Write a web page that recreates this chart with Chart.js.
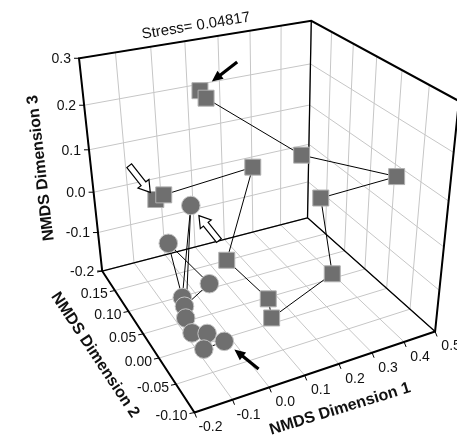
<!DOCTYPE html>
<html>
<head>
<meta charset="utf-8">
<script src="https://cdn.jsdelivr.net/npm/chart.js@4.4.0/dist/chart.umd.min.js"></script>
<style>
  body { margin: 0; background: #fff; }
  canvas { display: block; }
</style>
</head>
<body>
<canvas id="nmds" width="457" height="439"></canvas>
<script>
// axis ranges and ticks
const dim1Range = [-0.2, 0.5];
const dim2Range = [-0.10, 0.20];
const dim3Range = [-0.2, 0.3];
const dim1Ticks = [-0.2, -0.1, 0.0, 0.1, 0.2, 0.3, 0.4, 0.5];
const dim2Ticks = [-0.10, -0.05, 0.00, 0.05, 0.10, 0.15, 0.20];
const dim3Ticks = [-0.2, -0.1, 0.0, 0.1, 0.2, 0.3];
const dim1Labels = ['-0.2', '-0.1', '0.0', '0.1', '0.2', '0.3', '0.4', '0.5'];
const dim2Labels = ['-0.10', '-0.05', '0.00', '0.05', '0.10', '0.15', ''];
const dim3Labels = ['-0.2', '-0.1', '0.0', '0.1', '0.2', '0.3'];

// squares, in path order
const squareDim1 = [0.074, 0.080, 0.278, 0.409, 0.306, 0.277, 0.067, 0.079, 0.019, 0.133, -0.085, -0.098];
const squareDim2 = [0.133, 0.122, 0.050, -0.058, 0.025, -0.026, -0.050, -0.032, 0.019, 0.050, 0.087, 0.099];
const squareDim3 = [0.235, 0.225, 0.120, 0.134, 0.038, -0.086, -0.115, -0.093, -0.042, 0.118, 0.066, 0.048];

// circles, in path order
const circleDim1 = [-0.074, -0.130, -0.108, -0.135, -0.121, -0.052, -0.083, -0.115, -0.043, -0.130];
const circleDim2 = [-0.058, -0.059, -0.047, -0.033, 0.001, -0.001, 0.085, 0.013, 0.052, -0.011];
const circleDim3 = [-0.124, -0.126, -0.110, -0.118, -0.098, -0.060, -0.044, -0.092, 0.064, -0.110];

const stressText = 'Stress= 0.04817';

// box corners (unit cube) -> canvas, used to fit the perspective view
const view = [
  [0, 0, 0, 195.5, 413],
  [1, 0, 0, 435, 332],
  [0, 1, 0, 102, 270],
  [1, 1, 0, 307, 218],
  [0, 1, 1, 78.3, 59],
  [1, 1, 1, 312.7, 21],
  [1, 0, 1, 458, 100]
];

function solveLinear(M, b) {
  const n = b.length;
  const A = M.map((row, i) => row.concat([b[i]]));
  for (let c = 0; c < n; c++) {
    let p = c;
    for (let r = c + 1; r < n; r++) if (Math.abs(A[r][c]) > Math.abs(A[p][c])) p = r;
    [A[c], A[p]] = [A[p], A[c]];
    for (let r = 0; r < n; r++) {
      if (r === c) continue;
      const f = A[r][c] / A[c][c];
      for (let k = c; k <= n; k++) A[r][k] -= f * A[c][k];
    }
  }
  return A.map((row, i) => row[n] / row[i]);
}

function fitProjection() {
  const rows = [], rhs = [];
  for (const [u, v, w, x, y] of view) {
    rows.push([u, v, w, 1, 0, 0, 0, 0, -x * u, -x * v, -x * w]); rhs.push(x);
    rows.push([0, 0, 0, 0, u, v, w, 1, -y * u, -y * v, -y * w]); rhs.push(y);
  }
  const N = Array.from({length: 11}, () => new Array(11).fill(0));
  const r = new Array(11).fill(0);
  rows.forEach((row, k) => {
    for (let i = 0; i < 11; i++) {
      r[i] += row[i] * rhs[k];
      for (let j = 0; j < 11; j++) N[i][j] += row[i] * row[j];
    }
  });
  return solveLinear(N, r);
}
const P = fitProjection();

function project(d1, d2, d3) {
  const u = (d1 - dim1Range[0]) / (dim1Range[1] - dim1Range[0]);
  const v = (d2 - dim2Range[0]) / (dim2Range[1] - dim2Range[0]);
  const w = (d3 - dim3Range[0]) / (dim3Range[1] - dim3Range[0]);
  const h = P[8] * u + P[9] * v + P[10] * w + 1;
  return {
    x: (P[0] * u + P[1] * v + P[2] * w + P[3]) / h,
    y: (P[4] * u + P[5] * v + P[6] * w + P[7]) / h,
    depth: h
  };
}

const squarePts = squareDim1.map((d, i) => project(d, squareDim2[i], squareDim3[i]));
const circlePts = circleDim1.map((d, i) => project(d, circleDim2[i], circleDim3[i]));
const byDepth = pts => pts.slice().sort((a, b) => b.depth - a.depth);

// filled arrows point at the first square and first circle, open ones at the last square and ninth circle
const arrows = [
  {pts: squarePts, index: 0, angle: -37.6, gap: 15, length: 32, open: false},
  {pts: circlePts, index: 0, angle: 38.8, gap: 13, length: 31, open: false},
  {pts: squarePts, index: 11, angle: -128.2, gap: 9, length: 34, open: true},
  {pts: circlePts, index: 8, angle: 51.3, gap: 13, length: 32, open: true}
];

function canvasPoint(chart, p) {
  return {x: chart.scales.x.getPixelForValue(p.x), y: chart.scales.y.getPixelForValue(p.y)};
}
function at(chart, d1, d2, d3) {
  return canvasPoint(chart, project(d1, d2, d3));
}
function line(ctx, a, b) {
  ctx.moveTo(a.x, a.y);
  ctx.lineTo(b.x, b.y);
}

const boxPlugin = {
  id: 'box3d',
  beforeDatasetsDraw(chart) {
    const ctx = chart.ctx;
    const [x0, x1] = dim1Range, [y0, y1] = dim2Range, [z0, z1] = dim3Range;
    ctx.save();

    // grid on floor and two back walls
    ctx.strokeStyle = '#c6c6c6';
    ctx.lineWidth = 1;
    ctx.beginPath();
    dim1Ticks.forEach(t => {
      line(ctx, at(chart, t, y0, z0), at(chart, t, y1, z0));
      line(ctx, at(chart, t, y1, z0), at(chart, t, y1, z1));
    });
    dim2Ticks.forEach(t => {
      line(ctx, at(chart, x0, t, z0), at(chart, x1, t, z0));
      line(ctx, at(chart, x1, t, z0), at(chart, x1, t, z1));
    });
    dim3Ticks.forEach(t => {
      line(ctx, at(chart, x0, y1, t), at(chart, x1, y1, t));
      line(ctx, at(chart, x1, y0, t), at(chart, x1, y1, t));
    });
    ctx.stroke();

    // box edges
    ctx.strokeStyle = '#000';
    ctx.lineWidth = 1.3;
    ctx.beginPath();
    line(ctx, at(chart, x0, y1, z0), at(chart, x1, y1, z0));
    line(ctx, at(chart, x1, y1, z0), at(chart, x1, y0, z0));
    line(ctx, at(chart, x1, y1, z0), at(chart, x1, y1, z1));
    ctx.stroke();
    ctx.lineWidth = 2;
    ctx.beginPath();
    const c = [at(chart, x1, y0, z0), at(chart, x0, y0, z0), at(chart, x0, y1, z0),
      at(chart, x0, y1, z1), at(chart, x1, y1, z1), at(chart, x1, y0, z1)];
    ctx.moveTo(c[0].x, c[0].y);
    c.slice(1).forEach(p => ctx.lineTo(p.x, p.y));
    ctx.closePath();
    ctx.stroke();

    // ticks and tick labels
    ctx.lineWidth = 1;
    ctx.fillStyle = '#111';
    ctx.font = '14px "Liberation Sans", Arial, sans-serif';
    ctx.beginPath();
    dim3Ticks.forEach((t, i) => {
      const p = at(chart, x0, y1, t);
      ctx.moveTo(p.x, p.y); ctx.lineTo(p.x - 5, p.y);
      ctx.textAlign = 'right'; ctx.textBaseline = 'middle';
      ctx.fillText(dim3Labels[i], p.x - 8, p.y + 1);
    });
    dim2Ticks.forEach((t, i) => {
      const p = at(chart, x0, t, z0);
      ctx.moveTo(p.x, p.y); ctx.lineTo(p.x - 5, p.y + 1);
      ctx.textAlign = 'right'; ctx.textBaseline = 'middle';
      ctx.fillText(dim2Labels[i], p.x - 7, p.y + 4);
    });
    dim1Ticks.forEach((t, i) => {
      const p = at(chart, t, y0, z0);
      ctx.moveTo(p.x, p.y); ctx.lineTo(p.x + 2, p.y + 5);
      ctx.textAlign = 'center'; ctx.textBaseline = 'middle';
      ctx.fillText(dim1Labels[i], p.x + 16, p.y + 15);
    });
    ctx.stroke();

    // titles
    const text = (s, x, y, deg, font) => {
      ctx.save();
      ctx.translate(x, y);
      ctx.rotate(deg * Math.PI / 180);
      ctx.font = font;
      ctx.textAlign = 'center';
      ctx.textBaseline = 'middle';
      ctx.fillText(s, 0, 0);
      ctx.restore();
    };
    const bold = 'bold 16px "Liberation Sans", Arial, sans-serif';
    text('NMDS Dimension 1', 340, 409, -17, bold);
    text('NMDS Dimension 2', 95, 355, 56.4, bold);
    text('NMDS Dimension 3', 41, 168, -96.5, bold);
    text(stressText, 196, 26, -9.2, '15px "Liberation Sans", Arial, sans-serif');
    ctx.restore();
  },
  afterDatasetsDraw(chart) {
    const ctx = chart.ctx;
    ctx.save();
    arrows.forEach(a => {
      const c = canvasPoint(chart, a.pts[a.index]);
      const r = a.angle * Math.PI / 180;
      const tip = {x: c.x + Math.cos(r) * a.gap, y: c.y + Math.sin(r) * a.gap};
      ctx.save();
      ctx.translate(tip.x, tip.y);
      ctx.rotate(r);
      ctx.beginPath();
      if (a.open) {
        ctx.moveTo(0, 0);
        ctx.lineTo(11, -7); ctx.lineTo(11, -3); ctx.lineTo(a.length, -3);
        ctx.lineTo(a.length, 3); ctx.lineTo(11, 3); ctx.lineTo(11, 7);
        ctx.closePath();
        ctx.fillStyle = '#fff';
        ctx.fill();
        ctx.strokeStyle = '#000';
        ctx.lineWidth = 1.2;
        ctx.stroke();
      } else {
        ctx.moveTo(8, 0); ctx.lineTo(a.length, 0);
        ctx.strokeStyle = '#000';
        ctx.lineWidth = 3.2;
        ctx.stroke();
        ctx.beginPath();
        ctx.moveTo(0, 0); ctx.lineTo(11, -5); ctx.lineTo(11, 5);
        ctx.closePath();
        ctx.fillStyle = '#000';
        ctx.fill();
      }
      ctx.restore();
    });
    ctx.restore();
  }
};

new Chart(document.getElementById('nmds'), {
  type: 'scatter',
  data: {
    datasets: [
      {
        label: 'circles', data: byDepth(circlePts), order: 0,
        pointStyle: 'circle', pointRadius: 9.3,
        backgroundColor: '#6f6f6f', borderColor: '#c4c4c4', borderWidth: 1
      },
      {
        label: 'circle path', data: circlePts, showLine: true, order: 1,
        borderColor: '#000', borderWidth: 1, pointRadius: 0
      },
      {
        label: 'squares', data: byDepth(squarePts), order: 2,
        pointStyle: 'rect', pointRadius: 11.3,
        backgroundColor: '#6f6f6f', borderColor: '#b0b0b0', borderWidth: 1
      },
      {
        label: 'square path', data: squarePts, showLine: true, order: 3,
        borderColor: '#000', borderWidth: 1, pointRadius: 0
      }
    ]
  },
  options: {
    responsive: false,
    animation: false,
    devicePixelRatio: 1,
    layout: {padding: 0, autoPadding: false},
    scales: {
      x: {type: 'linear', min: 0, max: 457, display: false},
      y: {type: 'linear', min: 0, max: 439, reverse: true, display: false}
    },
    plugins: {legend: {display: false}, tooltip: {enabled: false}}
  },
  plugins: [boxPlugin]
});
</script>
</body>
</html>
